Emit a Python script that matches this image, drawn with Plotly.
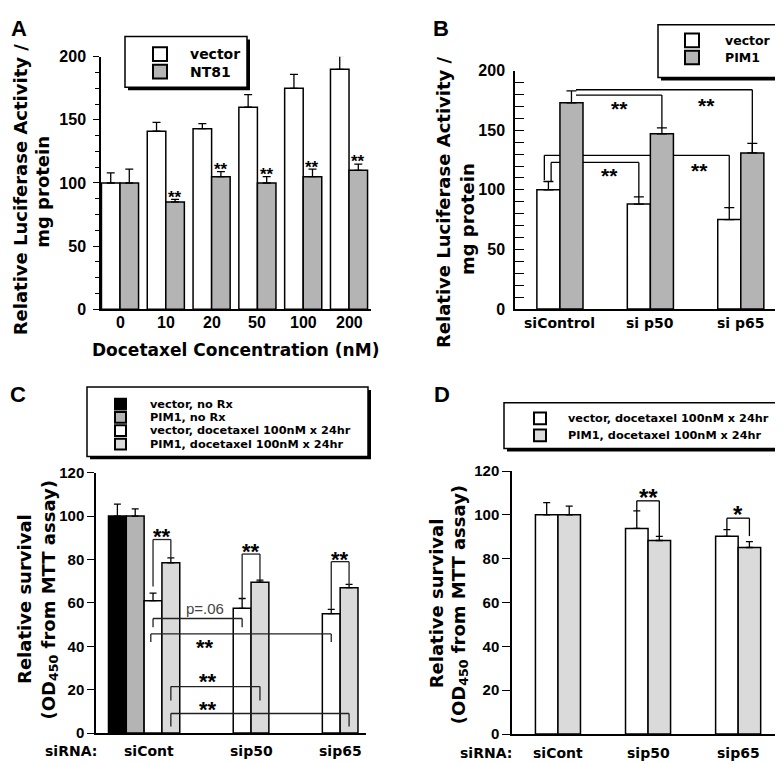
import plotly.graph_objects as go

FONT = "Liberation Sans, Arial, Helvetica, sans-serif"
WIDE = "DejaVu Sans, Verdana, sans-serif"
W, H = 783, 764
GREY = "#b4b4b4"
LIGHT = "#dadada"

# ---------------- panel A : luciferase vs docetaxel ----------------
A_CONC = ["0", "10", "20", "50", "100", "200"]
A_VECTOR = [100, 141, 143, 160, 175, 190]
A_VECTOR_ERR = [8, 7, 4, 10, 11, 11]
A_NT81 = [100, 85, 105, 100, 105, 110]
A_NT81_ERR = [11, 2, 4, 5, 6, 5]
A_STARS = ["", "**", "**", "**", "**", "**"]

# ---------------- panel B : luciferase with siRNA ----------------
B_SIRNA = ["siControl", "si p50", "si p65"]
B_VECTOR = [100, 88, 75]
B_VECTOR_ERR = [7, 6, 10]
B_PIM1 = [173, 147, 131]
B_PIM1_ERR = [10, 5, 8]
# (group0, slot0, nudge0, group1, slot1, y, left leg end, right leg end)
B_BRACKETS = [
    (0, 1, 0.05, 2, 1, 184, 184, 131),
    (0, 1, 0.05, 1, 1, 179.5, 179.5, 152),
    (0, 0, -0.045, 2, 0, 129, 108, 84),
    (0, 0, 0.03, 1, 0, 123, 107, 94),
]
B_STAR_X = [0.66, 1.62, 0.55, 1.54]
B_STAR_Y = [173, 175.5, 116.5, 120.5]

# ---------------- panel C : MTT survival ----------------
C_SIRNA = ["siCont", "sip50", "sip65"]
C_SIRNA_X = [0.05, 1.2, 2.2]
C_VEC_NORX = [100, None, None]
C_VEC_NORX_ERR = [5.5, 0, 0]
C_PIM_NORX = [100, None, None]
C_PIM_NORX_ERR = [3.3, 0, 0]
C_VEC_DOC = [61, 57.5, 55]
C_VEC_DOC_ERR = [3.5, 4.5, 2]
C_PIM_DOC = [78.5, 69.5, 67]
C_PIM_DOC_ERR = [2.2, 1, 1.5]
# (group0, slot0, nudge0, group1, slot1, y, left leg end, right leg end)
C_BRACKETS = [
    (0, 2, 0, 0, 3, 89.2, 67.5, 81),
    (1, 2, 0, 1, 3, 82.5, 61.5, 70.5),
    (2, 2, 0, 2, 3, 79, 57, 68.2),
    (0, 2, 0, 1, 2, 52.8, 48.7, 48.7),
    (0, 2, -0.025, 2, 2, 45.7, 42, 42),
    (0, 3, 0, 1, 3, 21.4, 15, 15),
    (0, 3, 0, 2, 3, 9, 3, 3),
]
C_LABELS = ["**", "**", "**", "p=.06", "**", "**", "**"]
C_LABEL_X = [0.2, 1.2, 2.2, 0.68, 0.68, 0.72, 0.72]
C_LABEL_Y = [93, 86, 82.5, 57.5, 42, 26.2, 13.6]

# ---------------- panel D : MTT survival, docetaxel only ----------------
D_SIRNA = ["siCont", "sip50", "sip65"]
D_SIRNA_X = [0, 1, 2]
D_VEC = [100, 93.8, 90.2]
D_VEC_ERR = [5.6, 8, 3.1]
D_PIM = [100, 88.3, 85.1]
D_PIM_ERR = [4, 1.9, 2.7]
D_BRACKETS = [
    (1, 0, 0, 1, 1, 106.4, 101.8, 90.2),
    (2, 0, 0, 2, 1, 98.5, 93.3, 90.3),
]
D_LABELS = ["**", "*"]
D_LABEL_X = [1.0, 2.0]
D_LABEL_Y = [110.6, 103]


def fx(px):
    return px / W


def fy(py):
    return 1 - py / H


def slot_x(g, s, n, gap):
    w = (1 - gap) / n
    return g + (s - (n - 1) / 2) * w


fig = go.Figure()
shapes = []
annos = []


def add_bars(vals, errs, slot, n, gap, color, ax, ew, lw=1.5):
    w = (1 - gap) / n
    off = (slot - n / 2) * w
    fig.add_trace(go.Bar(
        x=list(range(len(vals))), y=vals,
        width=w, offset=off,
        xaxis="x" + ax, yaxis="y" + ax,
        marker=dict(color=color, line=dict(color="black", width=lw)),
        error_y=dict(type="data", symmetric=False, array=errs,
                     arrayminus=[0] * len(errs), color="black",
                     thickness=1.3, width=ew),
        showlegend=False, hoverinfo="skip",
    ))


def add_brackets(spec, n, gap, ax, layer="above", color="black"):
    for g0, s0, d0, g1, s1, y, yl, yr in spec:
        x0 = slot_x(g0, s0, n, gap) + d0
        x1 = slot_x(g1, s1, n, gap)
        ln = dict(color=color, width=1.3)
        base = dict(type="line", xref="x" + ax, yref="y" + ax, line=ln, layer=layer)
        shapes.append(dict(base, x0=x0, x1=x1, y0=y, y1=y))
        if yl != y:
            shapes.append(dict(base, x0=x0, x1=x0, y0=y, y1=yl))
        if yr != y:
            shapes.append(dict(base, x0=x1, x1=x1, y0=y, y1=yr))


def star(text, x, y, ax, size, bold=True, color="black"):
    annos.append(dict(
        text=text, x=x, y=y, xref="x" + ax, yref="y" + ax, showarrow=False,
        yanchor="middle", yshift=-0.25 * size if "*" in text else 0,
        font=dict(family=FONT, size=size, color=color,
                  weight="bold" if bold else "normal"),
    ))


def xlabels(labels, xs, ax, py, size, family):
    for t, x in zip(labels, xs):
        annos.append(dict(
            text=t, x=x, y=fy(py), xref="x" + ax, yref="paper", showarrow=False,
            yanchor="middle", font=dict(family=family, size=size, color="black",
                                        weight="bold"),
        ))


def paper_text(text, x, y, size, angle=0, xanchor="center", family=WIDE,
               bold=True):
    annos.append(dict(
        text=text, x=fx(x), y=fy(y), xref="paper", yref="paper",
        showarrow=False, textangle=angle, xanchor=xanchor, yanchor="middle",
        font=dict(family=family, size=size, color="black",
                  weight="bold" if bold else "normal"),
    ))


def legend_box(x0, y0, x1, y1, items, sq_x, sq, text_x, size):
    shapes.append(dict(type="rect", xref="paper", yref="paper",
                       x0=fx(x0 + 3), x1=fx(x1 + 3), y0=fy(y1 + 3), y1=fy(y0 + 3),
                       fillcolor="black", line=dict(width=0)))
    shapes.append(dict(type="rect", xref="paper", yref="paper",
                       x0=fx(x0), x1=fx(x1), y0=fy(y1), y1=fy(y0),
                       fillcolor="white", line=dict(color="black", width=1.5)))
    for label, color, cy in items:
        shapes.append(dict(type="rect", xref="paper", yref="paper",
                           x0=fx(sq_x), x1=fx(sq_x + sq), y0=fy(cy + sq / 2),
                           y1=fy(cy - sq / 2), fillcolor=color,
                           line=dict(color="black", width=2)))
        paper_text(label, text_x, cy, size, xanchor="left")


# ---- A
A_GAP = 0.19
add_bars(A_VECTOR, A_VECTOR_ERR, 0, 2, A_GAP, "white", "", 4)
add_bars(A_NT81, A_NT81_ERR, 1, 2, A_GAP, GREY, "", 4)
for i, s in enumerate(A_STARS):
    if s:
        star(s, slot_x(i, 1, 2, A_GAP), A_NT81[i] + A_NT81_ERR[i] + 5, "", 17)
xlabels(A_CONC, range(len(A_CONC)), "", 313, 16, FONT)

# ---- B
B_GAP = 0.49
add_brackets(B_BRACKETS, 2, B_GAP, "2", layer="below")
add_bars(B_VECTOR, B_VECTOR_ERR, 0, 2, B_GAP, "white", "2", 5)
add_bars(B_PIM1, B_PIM1_ERR, 1, 2, B_GAP, GREY, "2", 5)
for x, y in zip(B_STAR_X, B_STAR_Y):
    star("**", x, y, "2", 21)
xlabels(B_SIRNA, range(len(B_SIRNA)), "2", 313, 14, WIDE)

# ---- C
C_GAP = 0.2
add_bars(C_VEC_NORX, C_VEC_NORX_ERR, 0, 4, C_GAP, "black", "3", 3.5)
add_bars(C_PIM_NORX, C_PIM_NORX_ERR, 1, 4, C_GAP, GREY, "3", 3.5)
add_bars(C_VEC_DOC, C_VEC_DOC_ERR, 2, 4, C_GAP, "white", "3", 3.5)
add_bars(C_PIM_DOC, C_PIM_DOC_ERR, 3, 4, C_GAP, LIGHT, "3", 3.5)
add_brackets(C_BRACKETS, 4, C_GAP, "3", color="#222")
for t, x, y in zip(C_LABELS, C_LABEL_X, C_LABEL_Y):
    if t.startswith("p"):
        star(t, x, y, "3", 15, bold=False, color="#444")
    else:
        star(t, x, y, "3", 22)
xlabels(C_SIRNA, C_SIRNA_X, "3", 752, 14, WIDE)

# ---- D
D_GAP = 0.5
add_bars(D_VEC, D_VEC_ERR, 0, 2, D_GAP, "white", "4", 3.5)
add_bars(D_PIM, D_PIM_ERR, 1, 2, D_GAP, LIGHT, "4", 3.5)
add_brackets(D_BRACKETS, 2, D_GAP, "4")
for t, x, y in zip(D_LABELS, D_LABEL_X, D_LABEL_Y):
    star(t, x, y, "4", 24)
xlabels(D_SIRNA, D_SIRNA_X, "4", 754, 14, WIDE)

# ---- legends
legend_box(117, 20, 239, 72, [("vector", "white", 38), ("NT81", GREY, 56)],
           145, 14, 180, 14)
legend_box(650, 8, 778, 62, [("vector", "white", 24), ("PIM1", GREY, 41.5)],
           677, 14, 715, 12.5)
legend_box(79, 379, 360, 450, [
    ("vector, no Rx", "black", 396.5),
    ("PIM1, no Rx", GREY, 410),
    ("vector, docetaxel 100nM x 24hr", "white", 423.5),
    ("PIM1, docetaxel 100nM x 24hr", LIGHT, 437.5),
], 107, 11, 140, 11.3)
legend_box(496, 395, 775, 442, [
    ("vector, docetaxel 100nM x 24hr", "white", 411),
    ("PIM1, docetaxel 100nM x 24hr", LIGHT, 428.5),
], 526, 12, 558, 11.3)

# ---- panel letters and titles (one annotation per title line)
for letter, x, y in [("A", 11, 12), ("B", 433, 12), ("C", 10, 387), ("D", 434, 387)]:
    paper_text(letter, x, y, 22, family=FONT)
LUC_1, LUC_2 = "Relative Luciferase Activity /", "mg protein"
MTT_1, MTT_2 = "Relative survival", "(OD<sub>450</sub> from MTT assay)"
for text, x, y in [(LUC_1, 12.5, 177), (LUC_2, 35, 179),
                   (LUC_1, 435, 189.5), (LUC_2, 459, 207),
                   (MTT_1, 17, 596), (MTT_2, 41.5, 597),
                   (MTT_1, 428.5, 601), (MTT_2, 452, 601.5)]:
    paper_text(text, x, y, 18, angle=-90)
paper_text("Docetaxel Concentration (nM)", 227, 341, 17)
paper_text("siRNA:", 63, 752, 14)
paper_text("siRNA:", 478, 754, 14)

tickfont = dict(family=FONT, size=16, color="black", weight="bold")
tickfont_c = dict(family=FONT, size=15, color="black", weight="bold")
common = dict(showgrid=False, zeroline=False, showline=True, linecolor="black",
              linewidth=1.5, tickcolor="black", fixedrange=True)
xcommon = dict(common, ticks="", showticklabels=False)

fig.update_layout(
    width=W, height=H,
    margin=dict(l=0, r=0, t=0, b=0),
    paper_bgcolor="white", plot_bgcolor="white",
    barmode="overlay",
    font=dict(family=FONT, color="black"),
    shapes=shapes, annotations=annos,
    xaxis=dict(xcommon, domain=[fx(93), fx(363)], range=[-0.415, 5.48], anchor="y"),
    yaxis=dict(common, domain=[fy(299.3), fy(40.7)], range=[0, 200],
               tickvals=[0, 50, 100, 150, 200], ticks="outside", ticklen=6,
               ticklabelstandoff=4,
               minor=dict(dtick=12.5, ticks="outside", ticklen=4, tickcolor="black"),
               tickfont=tickfont, anchor="x"),
    xaxis2=dict(xcommon, domain=[fx(507), fx(778)], range=[-0.497, 2.5], anchor="y2"),
    yaxis2=dict(common, domain=[fy(299), fy(55)], range=[0, 200],
                tickvals=[0, 50, 100, 150, 200], ticks="inside", ticklen=9,
                ticklabelstandoff=5,
                minor=dict(dtick=10, ticks="inside", ticklen=9, tickcolor="black"),
                tickfont=tickfont, anchor="x2"),
    xaxis3=dict(xcommon, domain=[fx(88), fx(358)], range=[-0.54, 2.49], anchor="y3"),
    yaxis3=dict(common, domain=[fy(733.3), fy(466.7)], range=[0, 120],
                dtick=20, ticks="outside", ticklen=7,
                tickfont=tickfont_c, anchor="x3"),
    xaxis4=dict(xcommon, domain=[fx(504), fx(777)], range=[-0.51, 2.52], anchor="y4"),
    yaxis4=dict(common, domain=[fy(734.3), fy(465)], range=[0, 120],
                dtick=20, ticks="outside", ticklen=8,
                tickfont=tickfont_c, anchor="x4"),
)

fig.write_html("out.html")
